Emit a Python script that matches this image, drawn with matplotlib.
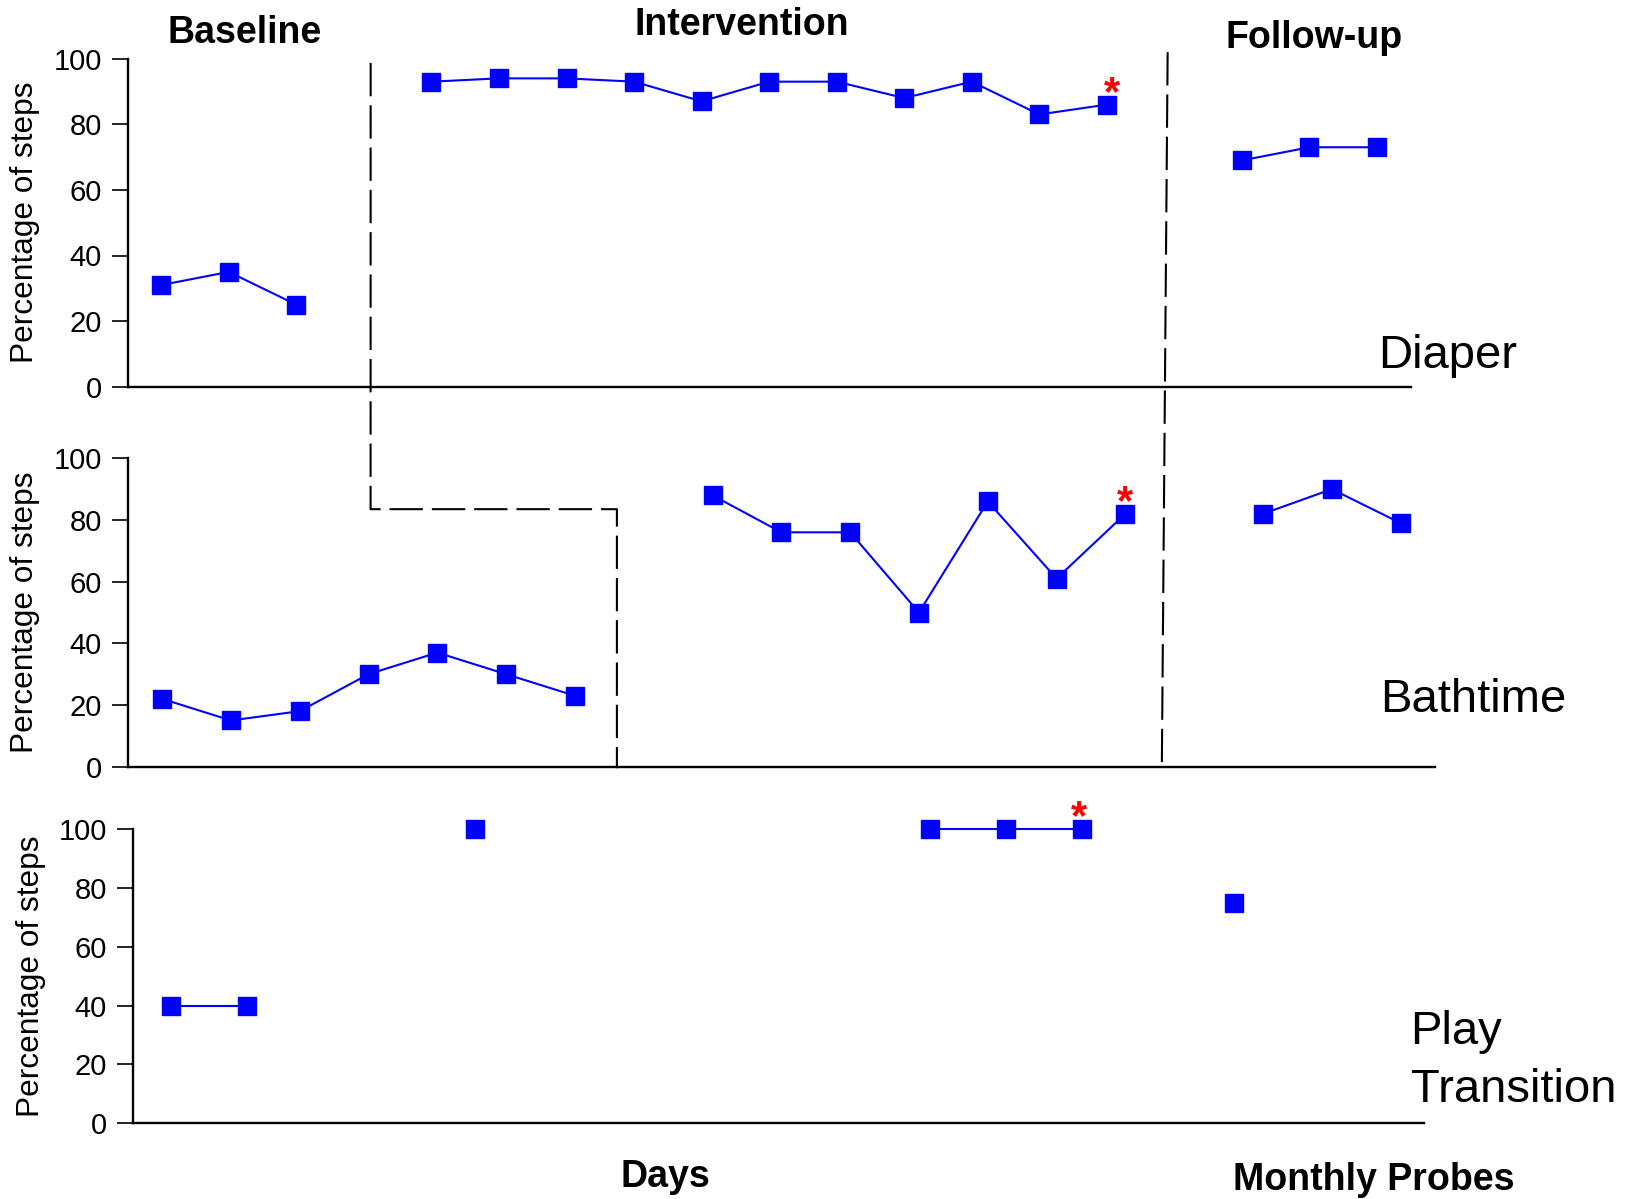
import matplotlib
matplotlib.use('Agg')
import matplotlib.pyplot as plt

plt.rcParams['font.family'] = ['Liberation Sans', 'DejaVu Sans']

W, H = 1632, 1199

# Diaper
diaper_base_x = [1, 2, 3]
diaper_base_y = [31, 35, 25]
diaper_int_x = [5, 6, 7, 8, 9, 10, 11, 12, 13, 14, 15]
diaper_int_y = [93, 94, 94, 93, 87, 93, 93, 88, 93, 83, 86]
diaper_fu_x = [17, 18, 19]
diaper_fu_y = [69, 73, 73]

# Bathtime
bath_base_x = [1, 2, 3, 4, 5, 6, 7]
bath_base_y = [22, 15, 18, 30, 37, 30, 23]
bath_int_x = [9, 10, 11, 12, 13, 14, 15]
bath_int_y = [88, 76, 76, 50, 86, 61, 82]
bath_fu_x = [17, 18, 19]
bath_fu_y = [82, 90, 79]

# Play Transition
play_base_x = [1, 2]
play_base_y = [40, 40]
play_probe_x = [5]
play_probe_y = [100]
play_int_x = [11, 12, 13]
play_int_y = [100, 100, 100]
play_fu_x = [15]
play_fu_y = [75]

# phase change lines (session, percent)
phase1_top = (4.1, 98.7)                                  # in Diaper panel
phase1_rest = [(4.03, 83.5), (7.61, 83.5), (7.61, -0.5)]  # in Bathtime panel
phase2_top = (15.9, 102)                                  # in Diaper panel
phase2_bottom = (15.53, 0)                                # in Bathtime panel

blue = '#0000ff'


def rect(l, t, r, b):
    return [l / W, 1 - b / H, (r - l) / W, (b - t) / H]


fig = plt.figure(figsize=(W / 100, H / 100), dpi=100)
ax1 = fig.add_axes(rect(127.5, 58.7, 1410.8, 386.7))
ax2 = fig.add_axes(rect(127.7, 458.3, 1435, 766.7))
ax3 = fig.add_axes(rect(132.8, 829, 1424, 1123.3))

panels = [
    (ax1, 19.5, [(diaper_base_x, diaper_base_y), (diaper_int_x, diaper_int_y), (diaper_fu_x, diaper_fu_y)], 4),
    (ax2, 19.5, [(bath_base_x, bath_base_y), (bath_int_x, bath_int_y), (bath_fu_x, bath_fu_y)], 0),
    (ax3, 17.5, [(play_base_x, play_base_y), (play_probe_x, play_probe_y), (play_int_x, play_int_y), (play_fu_x, play_fu_y)], -2),
]

for ax, xmax, segs, star_dx in panels:
    ax.set_xlim(0.5, xmax)
    ax.set_ylim(0, 100)
    for s in ['top', 'right']:
        ax.spines[s].set_visible(False)
    for s in ['left', 'bottom']:
        ax.spines[s].set_linewidth(1.7)
    ax.set_xticks([])
    ax.set_yticks(range(0, 101, 20))
    ax.tick_params(axis='y', length=11.5, width=1.2, labelsize=21, pad=7)
    ax.set_ylabel('Percentage of steps', fontsize=22.8, labelpad=9.5)
    for x, y in segs:
        ax.plot(x, y, color=blue, lw=1.5, marker='s', ms=12.5, mec=blue,
                clip_on=False, zorder=3)
    # red asterisk on last intervention point
    xi, yi = segs[-2]
    ax.annotate('*', (xi[-1], yi[-1]), xytext=(star_dx, 0), textcoords='offset points',
                ha='center', va='baseline', color='red', fontsize=30, fontweight='bold')

# phase change lines, drawn in the Bathtime panel's data coordinates
to_ax2 = ax2.transData.inverted()
p1 = to_ax2.transform(ax1.transData.transform(phase1_top))
xs = [p1[0]] + [p[0] for p in phase1_rest]
ys = [p1[1]] + [p[1] for p in phase1_rest]
ax2.plot(xs, ys, color='black', lw=1.5, dashes=(16, 4.3), clip_on=False, zorder=2)

p2 = to_ax2.transform(ax1.transData.transform(phase2_top))
ax2.plot([p2[0], phase2_bottom[0]], [p2[1], phase2_bottom[1]], color='black', lw=1.5,
         dashes=(16, 4.3), clip_on=False, zorder=2)


def fx(x):
    return x / W


def fy(y):
    return 1 - y / H


fig.text(fx(245), fy(43.3), 'Baseline', ha='center', va='baseline', fontsize=27, fontweight='bold')
fig.text(fx(741.6), fy(35), 'Intervention', ha='center', va='baseline', fontsize=27, fontweight='bold')
fig.text(fx(1313.6), fy(48.3), 'Follow-up', ha='center', va='baseline', fontsize=27, fontweight='bold')
fig.text(fx(664.9), fy(1186.7), 'Days', ha='center', va='baseline', fontsize=27, fontweight='bold')
fig.text(fx(1374), fy(1190), 'Monthly Probes', ha='center', va='baseline', fontsize=27, fontweight='bold')

fig.text(fx(1378.5), fy(368.3), 'Diaper', ha='left', va='baseline', fontsize=34)
fig.text(fx(1380.4), fy(711.7), 'Bathtime', ha='left', va='baseline', fontsize=34)
fig.text(fx(1410.5), fy(1044), 'Play', ha='left', va='baseline', fontsize=34)
fig.text(fx(1410.5), fy(1101.7), 'Transition', ha='left', va='baseline', fontsize=34)

fig.savefig('out.png', dpi=100, facecolor='white')
